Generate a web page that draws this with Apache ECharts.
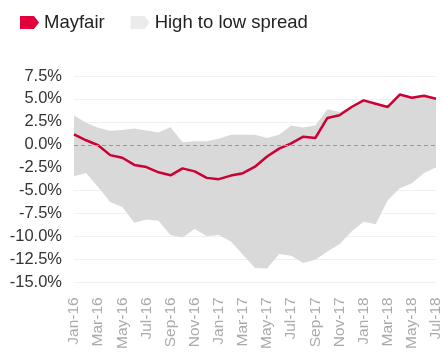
<!DOCTYPE html>
<html><head><meta charset="utf-8">
<script src="https://cdn.jsdelivr.net/npm/echarts@6/dist/echarts.min.js"></script>
<style>html,body{margin:0;padding:0;background:#fff}#c{width:444px;height:352px}</style>
</head><body><div id="c"></div>
<script>
var months = ['Jan-16','Feb-16','Mar-16','Apr-16','May-16','Jun-16','Jul-16','Aug-16','Sep-16','Oct-16','Nov-16','Dec-16',
  'Jan-17','Feb-17','Mar-17','Apr-17','May-17','Jun-17','Jul-17','Aug-17','Sep-17','Oct-17','Nov-17','Dec-17',
  'Jan-18','Feb-18','Mar-18','Apr-18','May-18','Jun-18','Jul-18'];
var mayfair = [1.13, 0.49, -0.05, -1.13, -1.42, -2.2, -2.43, -3.0, -3.33, -2.57, -2.9, -3.61,
  -3.75, -3.36, -3.1, -2.39, -1.28, -0.42, 0.16, 0.88, 0.74, 2.93, 3.22, 4.12,
  4.84, 4.48, 4.12, 5.48, 5.12, 5.34, 5.02];
var spreadHigh = [3.18, 2.39, 1.85, 1.53, 1.6, 1.78, 1.56, 1.35, 1.92, 0.27, 0.38, 0.38,
  0.65, 1.1, 1.1, 1.1, 0.74, 1.1, 2.1, 1.89, 2.1, 3.87, 3.58, 4.12,
  4.84, 4.48, 4.12, 5.48, 5.12, 5.34, 5.02];
var spreadLow = [-3.43, -3.07, -4.6, -6.24, -6.78, -8.5, -8.14, -8.29, -9.84, -10.12, -9.19, -9.95,
  -9.84, -10.55, -12.0, -13.43, -13.5, -11.92, -12.1, -12.9, -12.53, -11.63, -10.84, -9.47,
  -8.4, -8.68, -6.06, -4.73, -4.19, -3.1, -2.46];

var spreadDiff = spreadHigh.map(function(v, i){ return +(v - spreadLow[i]).toFixed(3); });
var FONT = "'Liberation Sans', Arial, Helvetica, sans-serif";
var chart = echarts.init(document.getElementById('c'), null, {renderer:'canvas'});
chart.setOption({
  animation: false,
  textStyle: {fontFamily: FONT},
  legend: {
    left: 15, top: 8,
    itemWidth: 19, itemHeight: 13, itemGap: 26,
    textStyle: {fontSize: 18.5, color: '#222', fontFamily: FONT},
    data: [
      {name: 'Mayfair', icon: 'path://M0,0 L14,0 L19,6.5 L14,13 L0,13 Z', itemStyle: {color: '#e2003c'}},
      {name: 'High to low spread', icon: 'path://M0,0 L14,0 L19,6.5 L14,13 L0,13 Z', itemStyle: {color: '#ebebeb'}}
    ]
  },
  grid: {left: 74, right: 6, top: 76, bottom: 68},
  xAxis: {
    type: 'category', data: months, boundaryGap: false,
    axisLine: {show: false}, axisTick: {show: false},
    axisLabel: {rotate: 90, interval: 1, margin: 15, color: '#aaa', fontSize: 15.5, fontFamily: FONT},
    splitLine: {show: false}
  },
  yAxis: {
    type: 'value', min: -15, max: 7.5, interval: 2.5,
    axisLine: {show: false}, axisTick: {show: false},
    axisLabel: {margin: 12, color: '#333', fontSize: 16.5, fontFamily: FONT,
      formatter: function(v){ return v.toFixed(1) + '%'; }},
    splitLine: {lineStyle: {color: '#f0f0f0', width: 1}}
  },
  series: [
    {name: 'low', type: 'line', data: spreadLow, stack: 'spread', stackStrategy: 'all',
      symbol: 'none', lineStyle: {opacity: 0}, silent: true, z: 1},
    {name: 'High to low spread', type: 'line', data: spreadDiff, stack: 'spread', stackStrategy: 'all',
      symbol: 'none', lineStyle: {opacity: 0}, areaStyle: {color: '#d9d9d9', opacity: 1}, z: 1,
      markLine: {silent: true, symbol: 'none', label: {show: false},
        lineStyle: {color: '#999', type: [4, 3], width: 1}, data: [{yAxis: 0}]}},
    {name: 'Mayfair', type: 'line', data: mayfair, symbol: 'none', z: 3,
      lineStyle: {color: '#cc0033', width: 2.5}, itemStyle: {color: '#cc0033'}}
  ]
});
</script></body></html>
